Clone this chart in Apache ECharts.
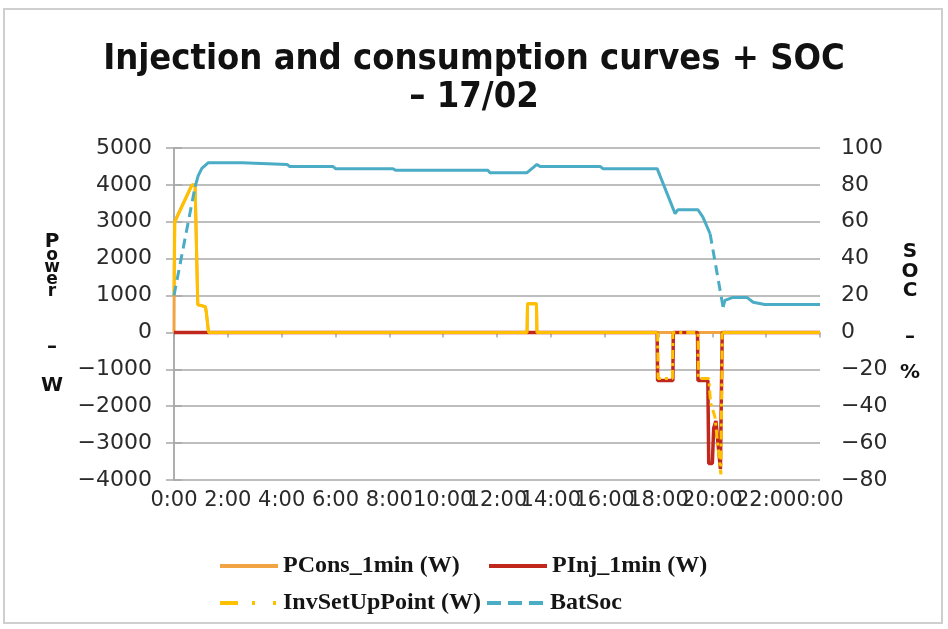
<!DOCTYPE html>
<html><head><meta charset="utf-8">
<script src="https://cdn.jsdelivr.net/npm/echarts@6/dist/echarts.min.js"></script>
<style>html,body{margin:0;padding:0;background:#fff}#c{width:948px;height:629px}</style>
</head><body><div id="c"></div>
<script>
// ---- data (time in minutes since 0:00) ----
const xTickLabels = ['0:00','2:00','4:00','6:00','8:00','10:00','12:00','14:00','16:00','18:00','20:00','22:00','0:00'];

const pconsT = [0, 1, 40, 47, 53, 70, 72, 76, 77, 787, 788, 808, 809, 1440];
const pconsV = [0, 3000, 4000, 4000, 750, 700, 550, 550, 0, 0, 780, 780, 0, 0];

const pinjT = [0, 1077, 1078, 1112, 1113, 1167, 1168, 1190, 1192, 1200, 1203, 1208, 1218, 1221, 1222, 1440];
const pinjV = [0, 0, -1300, -1300, 0, 0, -1300, -1300, -3550, -3550, -2600, -2400, -3700, -3700, 0, 0];

const invT = [0, 2, 40, 47, 53, 70, 72, 76, 77, 787, 788, 808, 809, 1078, 1079, 1111, 1112, 1168, 1169, 1192, 1196, 1206, 1219, 1221, 1222, 1440];
const invV = [1000, 3000, 4000, 4000, 750, 700, 550, 550, 0, 0, 780, 780, 0, 0, -1250, -1250, 0, 0, -1250, -1250, -1900, -2300, -3850, -3850, 0, 0];

const socT = [0, 47, 54, 62, 76, 152, 156, 252, 258, 354, 360, 488, 494, 700, 704, 787, 809, 816, 950, 956, 1077, 1117, 1123, 1168, 1179, 1195, 1224, 1228, 1246, 1277, 1291, 1317, 1440];
const socV = [20, 79, 85, 89, 92, 92, 91.1, 91.1, 90, 90, 88.8, 88.8, 87.9, 87.9, 86.6, 86.6, 91.1, 90, 90, 88.8, 88.8, 64.4, 66.5, 66.5, 62.5, 53.5, 13.7, 17.4, 19, 19, 16.4, 15.2, 15.2];

const socDashedRanges = [[0, 47], [1195, 1224]];
const invDashedRanges = [[1070, 1230]];

// ---- helpers ----
function pts(ts, vs){ return ts.map((t,i)=>[t, vs[i]]); }
function split(ts, vs, ranges){
  const p = pts(ts, vs), solid = [], dashed = [];
  for (let i=1;i<p.length;i++){
    const a=p[i-1], b=p[i];
    const d = ranges.some(([lo,hi]) => a[0]>=lo && b[0]<=hi);
    const target = d ? dashed : solid;
    const last = target[target.length-1];
    if (last !== a){ if (target.length) target.push(null); target.push(a); }
    target.push(b);
  }
  return {solid, dashed};
}
const soc = split(socT, socV, socDashedRanges);
const inv = split(invT, invV, invDashedRanges);
const fmtNum = v => String(v).replace('-', '\u2212');

const C_PCONS = '#F2A444', C_PINJ = '#C0281E', C_INV = '#FFC000', C_SOC = '#4BACC6';
const GRID = '#A8A8A8';
const xLabelFont = {fontFamily:'DejaVu Sans', fontSize:21, color:'#2a2a2a'};
const yLabelFont = {fontFamily:'DejaVu Sans', fontSize:22, color:'#2a2a2a'};
const legendText = {fontFamily:'Liberation Serif', fontWeight:'bold', fontSize:24, color:'#151515'};
const legendBase = {padding:0, itemWidth:58, itemHeight:14, textStyle:legendText,
  itemStyle:{opacity:0}, lineStyle:{width:4}};

const chart = echarts.init(document.getElementById('c'), null, {renderer:'canvas'});
chart.setOption({
  animation:false,
  backgroundColor:'#fff',
  graphic:[{type:'rect', shape:{x:4, y:9, width:938, height:614}, style:{fill:'none', stroke:'#CFCFCF', lineWidth:2}, z:-10}],
  title:{text:'Injection and consumption curves + SOC\n– 17/02', left:'center', top:36,
    textStyle:{fontFamily:'DejaVu Sans Condensed', fontWeight:'bold', fontSize:36, lineHeight:38, color:'#111'}},
  grid:{left:174, right:128, top:148, bottom:149},
  legend:[
    Object.assign({data:['PCons_1min (W)'], left:218, top:554}, legendBase),
    Object.assign({data:['PInj_1min (W)'], left:487, top:554}, legendBase),
    Object.assign({data:[{name:'InvSetUpPoint (W)', lineStyle:{type:[18,14,3,18,3,14], width:4}}], left:218, top:591}, legendBase),
    Object.assign({data:[{name:'BatSoc', lineStyle:{type:[14,7], width:4}}], left:485, top:591}, legendBase)
  ],
  xAxis:[
    {type:'value', min:0, max:1440, interval:120,
     axisLine:{show:true, onZero:true, lineStyle:{color:GRID, width:1.5}},
     axisTick:{show:true, length:5, lineStyle:{color:GRID, width:1.5}},
     axisLabel:{show:false}, splitLine:{show:false}},
    {type:'value', min:0, max:1440, interval:120, position:'bottom',
     axisLine:{show:false, onZero:false}, axisTick:{show:false}, splitLine:{show:false},
     axisLabel:Object.assign({margin:10, showMinLabel:true, showMaxLabel:true,
       formatter:v => xTickLabels[Math.round(v/120)]}, xLabelFont)}
  ],
  yAxis:[
    {type:'value', min:-4000, max:5000, interval:1000, position:'left',
     name:'{a|P}\n{b|o}\n{b|w}\n{b|e}\n{b|r}\n{s| }\n{c|–}\n{c|W}',
     nameLocation:'middle', nameRotate:0, nameGap:122,
     nameTextStyle:{align:'center', verticalAlign:'middle', padding:[10,0,0,0],
       fontFamily:'DejaVu Sans', fontWeight:'bold', fontSize:20, color:'#111',
       rich:{a:{lineHeight:17, fontSize:20, fontWeight:'bold', fontFamily:'DejaVu Sans', color:'#111'},
             b:{lineHeight:12, fontSize:17, fontWeight:'bold', fontFamily:'DejaVu Sans', color:'#111'},
             s:{lineHeight:30, fontSize:10},
             c:{lineHeight:38.5, fontSize:20, fontWeight:'bold', fontFamily:'DejaVu Sans', color:'#111'}}},
     axisLine:{show:true, lineStyle:{color:GRID, width:1.5}},
     axisTick:{show:true, length:8, lineStyle:{color:GRID, width:1.5}},
     splitLine:{show:true, lineStyle:{color:GRID, width:1.5}},
     axisLabel:Object.assign({margin:22, formatter:fmtNum}, yLabelFont)},
    {type:'value', min:-80, max:100, interval:20, position:'right',
     name:'{a|S}\n{a|O}\n{a|C}\n{s| }\n{c|–}\n{c|%}',
     nameLocation:'middle', nameRotate:0, nameGap:90,
     nameTextStyle:{align:'center', verticalAlign:'middle', padding:[5,0,0,0],
       fontFamily:'DejaVu Sans', fontWeight:'bold', fontSize:20, color:'#111',
       rich:{a:{lineHeight:19.5, fontSize:20, fontWeight:'bold', fontFamily:'DejaVu Sans', color:'#111'},
             s:{lineHeight:18, fontSize:10},
             c:{lineHeight:36, fontSize:20, fontWeight:'bold', fontFamily:'DejaVu Sans', color:'#111'}}},
     axisLine:{show:true, lineStyle:{color:GRID, width:1.5}},
     axisTick:{show:true, length:8, lineStyle:{color:GRID, width:1.5}},
     splitLine:{show:false},
     axisLabel:Object.assign({margin:21, formatter:fmtNum}, yLabelFont)}
  ],
  series:[
    {name:'PCons_1min (W)', type:'line', symbol:'none', data:pts(pconsT, pconsV),
     lineStyle:{color:C_PCONS, width:3}, itemStyle:{color:C_PCONS}},
    {name:'PInj_1min (W)', type:'line', symbol:'none', data:pts(pinjT, pinjV),
     lineStyle:{color:C_PINJ, width:3.5}, itemStyle:{color:C_PINJ}},
    {name:'InvSetUpPoint (W)', type:'line', symbol:'none', data:inv.solid,
     lineStyle:{color:C_INV, width:3}, itemStyle:{color:C_INV}},
    {name:'InvSetUpPoint (W)', type:'line', symbol:'none', data:inv.dashed,
     lineStyle:{color:C_INV, width:3, type:[9,4,3,4]}, itemStyle:{color:C_INV}},
    {name:'BatSoc', type:'line', symbol:'none', yAxisIndex:1, data:soc.solid,
     lineStyle:{color:C_SOC, width:3}, itemStyle:{color:C_SOC}},
    {name:'BatSoc', type:'line', symbol:'none', yAxisIndex:1, data:soc.dashed,
     lineStyle:{color:C_SOC, width:3, type:[10,6]}, itemStyle:{color:C_SOC}}
  ]
});
</script></body></html>
